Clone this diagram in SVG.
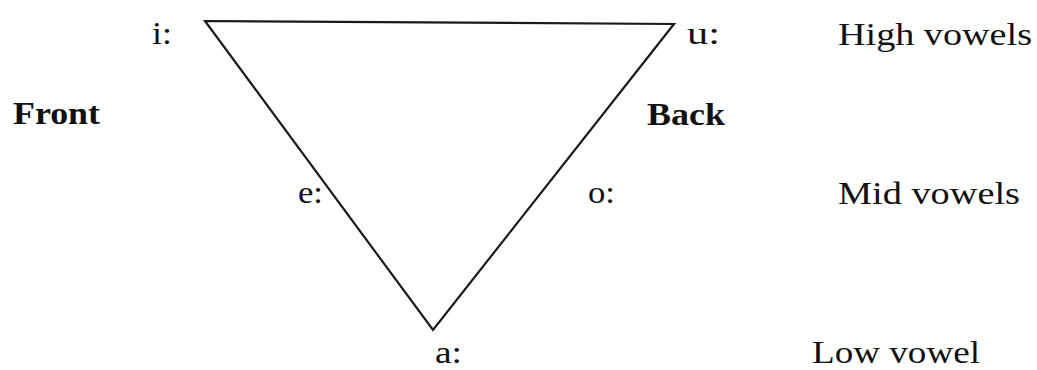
<svg xmlns="http://www.w3.org/2000/svg" width="1037" height="370" viewBox="0 0 1037 370">
<style>
.t{font-family:"Liberation Serif",serif;font-size:31px;fill:#111}
.b{font-weight:bold}
.edge{stroke:#1a1a1a;stroke-width:2.2;fill:none;stroke-linejoin:miter}
</style>
<rect width="1037" height="370" fill="#fff"/>
<g id="connectors">
<polygon class="edge" points="205,21 674,24 433,330"/>
</g>
<g font-family="Liberation Serif, serif">
<g id="node-i"><text class="t" x="152" y="44" textLength="20" lengthAdjust="spacingAndGlyphs">i:</text></g>
<g id="node-u"><text class="t" x="687" y="44" textLength="33" lengthAdjust="spacingAndGlyphs">u:</text></g>
<g id="node-e"><text class="t" x="298" y="203" textLength="25" lengthAdjust="spacingAndGlyphs">e:</text></g>
<g id="node-o"><text class="t" x="588" y="203" textLength="27" lengthAdjust="spacingAndGlyphs">o:</text></g>
<g id="node-a"><text class="t" x="435" y="363" textLength="27" lengthAdjust="spacingAndGlyphs">a:</text></g>
<g id="label-front"><text class="t b" x="13" y="124" textLength="87" lengthAdjust="spacingAndGlyphs">Front</text></g>
<g id="label-back"><text class="t b" x="647" y="125" textLength="78" lengthAdjust="spacingAndGlyphs">Back</text></g>
<g id="label-high"><text class="t" x="838" y="45" textLength="194" lengthAdjust="spacingAndGlyphs">High vowels</text></g>
<g id="label-mid"><text class="t" x="838" y="204" textLength="182" lengthAdjust="spacingAndGlyphs">Mid vowels</text></g>
<g id="label-low"><text class="t" x="812" y="363" textLength="168" lengthAdjust="spacingAndGlyphs">Low vowel</text></g>
</g>
</svg>
